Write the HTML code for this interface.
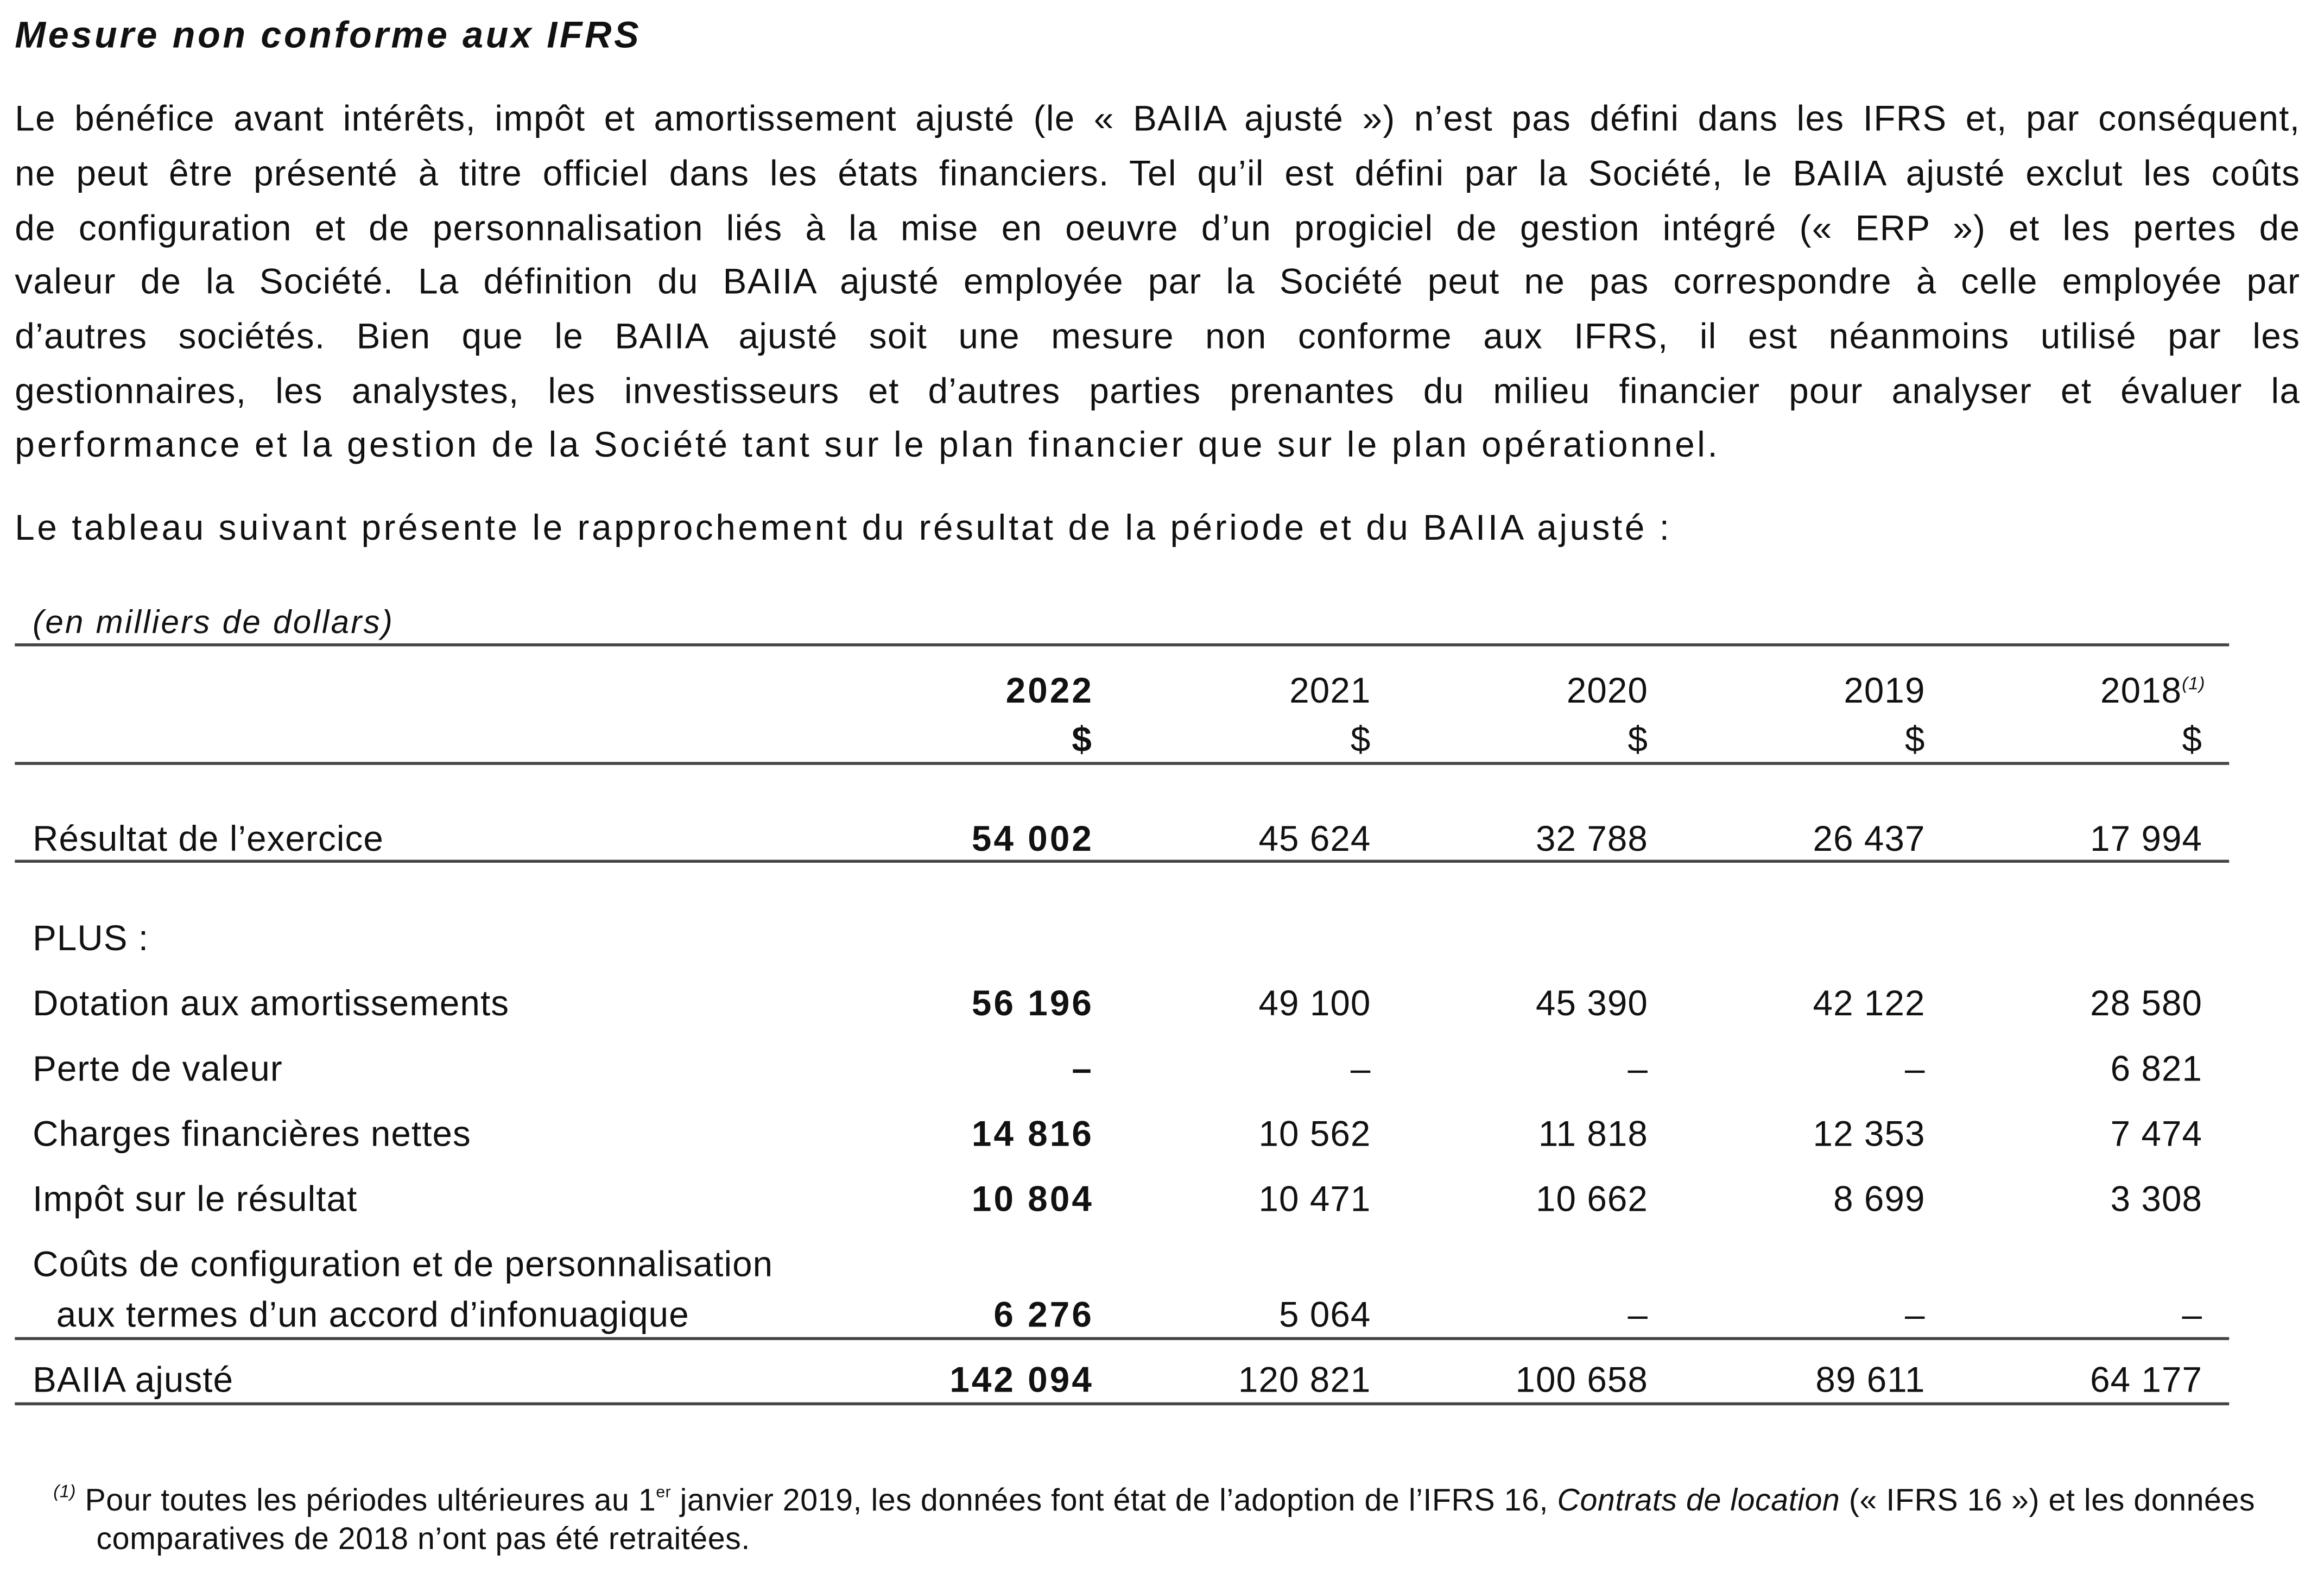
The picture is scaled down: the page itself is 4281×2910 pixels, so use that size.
<!DOCTYPE html>
<html><head><meta charset="utf-8"><style>
html,body{margin:0;padding:0;background:#fff;}
body{width:4281px;height:2909px;overflow:hidden;}
#wrap{position:absolute;left:0;top:0;width:1568px;height:1066px;transform:scale(2.7302);transform-origin:0 0;font-family:"Liberation Sans",sans-serif;color:#111;}
.a{position:absolute;white-space:nowrap;}
.title{left:10px;top:10px;font-size:25px;font-weight:bold;font-style:italic;letter-spacing:1.7px;}
.pl{position:absolute;left:10px;width:1542px;font-size:24px;letter-spacing:0.5px;line-height:30px;height:30px;text-align:justify;text-align-last:justify;white-space:nowrap;overflow:visible;}
.t{font-size:24px;letter-spacing:0.4px;line-height:30px;height:30px;}
.r{text-align:right;width:200px;}
.b{font-weight:bold;letter-spacing:1.5px;}
.hr{position:absolute;left:10px;width:1494px;height:2px;background:#444;}
.fn{font-size:21px;line-height:24px;letter-spacing:0.2px;}
.sp{font-size:12px;font-style:italic;position:relative;top:-9px;}
</style></head><body>
<div id="wrap">
<div class="a title">Mesure non conforme aux IFRS</div>
<div>
<div class="pl" style="top:66px">Le bénéfice avant intérêts, impôt et amortissement ajusté (le « BAIIA ajusté ») n’est pas défini dans les IFRS et, par conséquent,</div>
<div class="pl" style="top:103px">ne peut être présenté à titre officiel dans les états financiers. Tel qu’il est défini par la Société, le BAIIA ajusté exclut les coûts</div>
<div class="pl" style="top:140px">de configuration et de personnalisation liés à la mise en oeuvre d’un progiciel de gestion intégré (« ERP ») et les pertes de</div>
<div class="pl" style="top:176px">valeur de la Société. La définition du BAIIA ajusté employée par la Société peut ne pas correspondre à celle employée par</div>
<div class="pl" style="top:213px">d’autres sociétés. Bien que le BAIIA ajusté soit une mesure non conforme aux IFRS, il est néanmoins utilisé par les</div>
<div class="pl" style="top:250px">gestionnaires, les analystes, les investisseurs et d’autres parties prenantes du milieu financier pour analyser et évaluer la</div>
<div class="pl" style="top:286px;text-align-last:left;width:auto;letter-spacing:1.7px">performance et la gestion de la Société tant sur le plan financier que sur le plan opérationnel.</div>
</div>
<div class="a" style="left:10px;top:342px;font-size:24px;letter-spacing:1.7px;line-height:30px">Le tableau suivant présente le rapprochement du résultat de la période et du BAIIA ajusté :</div>
<div class="a" style="left:22px;top:406px;font-size:22px;letter-spacing:1.2px;font-style:italic;line-height:28px">(en milliers de dollars)</div>
<div class="hr" style="top:434px"></div>
<div>
<div class="a t r b" style="left:538px;top:452px">2022</div>
<div class="a t r" style="left:725px;top:452px">2021</div>
<div class="a t r" style="left:912px;top:452px">2020</div>
<div class="a t r" style="left:1099px;top:452px">2019</div>
<div class="a t r" style="left:1288px;top:452px">2018<span class="sp">(1)</span></div>
<div class="a t r b" style="left:538px;top:485px">$</div>
<div class="a t r" style="left:725px;top:485px">$</div>
<div class="a t r" style="left:912px;top:485px">$</div>
<div class="a t r" style="left:1099px;top:485px">$</div>
<div class="a t r" style="left:1286px;top:485px">$</div>
</div>
<div class="hr" style="top:514px"></div>
<div id="rows"></div>
<div class="hr" style="top:580px"></div>
<div class="hr" style="top:902px"></div>
<div class="hr" style="top:946px"></div>
<div class="a fn" style="left:36px;top:1001px"><span class="sp">(1)</span> Pour toutes les périodes ultérieures au 1<span style="font-size:11px;position:relative;top:-9px">er</span> janvier 2019, les données font état de l’adoption de l’IFRS 16, <i>Contrats de location</i> (« IFRS 16 ») et les données</div>
<div class="a fn" style="left:65px;top:1027px">comparatives de 2018 n’ont pas été retraitées.</div>
</div>
<script>
const labels=["Résultat de l’exercice","PLUS :","Dotation aux amortissements","Perte de valeur","Charges financières nettes","Impôt sur le résultat","Coûts de configuration et de personnalisation","  aux termes d’un accord d’infonuagique","BAIIA ajusté"];
const rowY=[568,635,679,723,767,811,855,889,933];
const v2022=["54 002","","56 196","–","14 816","10 804","","6 276","142 094"];
const v2021=["45 624","","49 100","–","10 562","10 471","","5 064","120 821"];
const v2020=["32 788","","45 390","–","11 818","10 662","","–","100 658"];
const v2019=["26 437","","42 122","–","12 353","8 699","","–","89 611"];
const v2018=["17 994","","28 580","6 821","7 474","3 308","","–","64 177"];
const cols=[v2022,v2021,v2020,v2019,v2018];
const rights=[738,925,1112,1299,1486];
const host=document.getElementById('rows');
labels.forEach((lab,i)=>{
  const d=document.createElement('div');
  d.className='a t';
  d.style.left=(i===7?38:22)+'px';
  d.style.top=(rowY[i]-16)+'px';
  d.textContent=lab.trim();
  
  
  host.appendChild(d);
  cols.forEach((c,j)=>{
    if(!c[i])return;
    const e=document.createElement('div');
    e.className='a t r'+(j===0?' b':'');
    e.style.left=(rights[j]-200)+'px';
    e.style.top=(rowY[i]-16)+'px';
    e.textContent=c[i];
    
    
    host.appendChild(e);
  });
});
</script>
</body></html>
